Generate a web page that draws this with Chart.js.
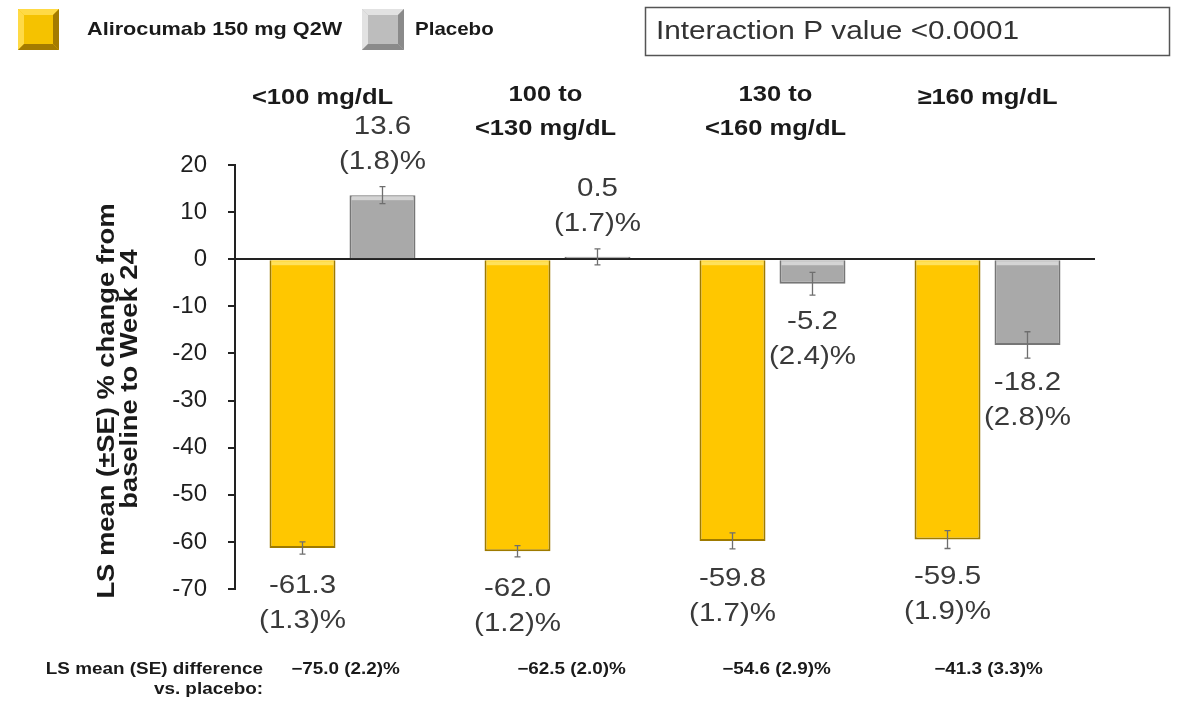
<!DOCTYPE html>
<html>
<head>
<meta charset="utf-8">
<title>LS mean % change from baseline to Week 24 by baseline LDL-C</title>
<script src="https://cdn.jsdelivr.net/npm/chart.js@4.4.1/dist/chart.umd.min.js"></script>
<style>
  html, body { margin: 0; padding: 0; background: #ffffff; }
  #wrap { width: 1178px; height: 706px; position: relative; }
</style>
</head>
<body>
<div id="wrap"><canvas id="chart" width="1178" height="706"></canvas></div>
<script>
// Baseline LDL-C subgroups
const categories = ['<100 mg/dL', '100 to <130 mg/dL', '130 to <160 mg/dL', '≥160 mg/dL'];
const headerLines = [['<100 mg/dL'], ['100 to', '<130 mg/dL'], ['130 to', '<160 mg/dL'], ['≥160 mg/dL']];

// LS mean % change and SE per treatment arm
const alirocumab = [-61.3, -62.0, -59.8, -59.5];
const alirocumabSE = [1.3, 1.2, 1.7, 1.9];
const placebo = [13.6, 0.5, -5.2, -18.2];
const placeboSE = [1.8, 1.7, 2.4, 2.8];

// LS mean (SE) difference vs. placebo
const diffMean = [-75.0, -62.5, -54.6, -41.3];
const diffSE = [2.2, 2.0, 2.9, 3.3];

// Y axis range and step
const yMin = -70;
const yMax = 20;
const yStep = 10;

const seriesNames = ['Alirocumab 150 mg Q2W', 'Placebo'];
const interactionText = 'Interaction P value <0.0001';

const FONT = "'Liberation Sans', Arial, Helvetica, sans-serif";
const YELLOW = '#FFC700';
const YELLOW_EDGE = '#9E7A00';
const GREY = '#A9A9A9';
const GREY_EDGE = '#767676';

// Draw text stretched along its own direction
function wideText(ctx, str, x, y, opts) {
  ctx.save();
  ctx.translate(x, y);
  if (opts.rotate) ctx.rotate(opts.rotate);
  ctx.scale(opts.sx || 1, 1);
  ctx.font = opts.font;
  ctx.fillStyle = opts.color || '#222';
  ctx.textAlign = opts.align || 'center';
  ctx.textBaseline = 'middle';
  ctx.fillText(str, 0, 0);
  ctx.restore();
}

// Bevelled legend swatch
function bevelBox(ctx, x, y, w, h, base, light, dark) {
  const b = 6;
  ctx.save();
  ctx.fillStyle = base;
  ctx.fillRect(x, y, w, h);
  ctx.fillStyle = light;
  ctx.beginPath();
  ctx.moveTo(x, y); ctx.lineTo(x + w, y); ctx.lineTo(x + w - b, y + b); ctx.lineTo(x + b, y + b); ctx.closePath();
  ctx.fill();
  ctx.beginPath();
  ctx.moveTo(x, y); ctx.lineTo(x + b, y + b); ctx.lineTo(x + b, y + h - b); ctx.lineTo(x, y + h); ctx.closePath();
  ctx.fill();
  ctx.fillStyle = dark;
  ctx.beginPath();
  ctx.moveTo(x, y + h); ctx.lineTo(x + b, y + h - b); ctx.lineTo(x + w - b, y + h - b); ctx.lineTo(x + w, y + h); ctx.closePath();
  ctx.fill();
  ctx.beginPath();
  ctx.moveTo(x + w, y); ctx.lineTo(x + w, y + h); ctx.lineTo(x + w - b, y + h - b); ctx.lineTo(x + w - b, y + b); ctx.closePath();
  ctx.fill();
  ctx.restore();
}

const fmt = v => v.toFixed(1);
const fmtDiff = (m, s) => (m < 0 ? '\u2212' : '') + Math.abs(m).toFixed(1) + ' (' + s.toFixed(1) + ')%';

const annotations = {
  id: 'annotations',
  afterDatasetsDraw(chart) {
    const ctx = chart.ctx;
    const xs = chart.scales.x;
    const ys = chart.scales.y;
    const seList = [alirocumabSE, placeboSE];

    chart.data.datasets.forEach((ds, di) => {
      const meta = chart.getDatasetMeta(di);
      meta.data.forEach((bar, i) => {
        const v = ds.data[i];
        const se = seList[di][i];
        const p = bar.getProps(['x', 'y', 'base', 'width'], true);
        const left = p.x - p.width / 2;

        // light strip along the upper edge of each bar
        const top = Math.min(p.y, p.base);
        if (Math.abs(p.y - p.base) > 6) {
          ctx.save();
          ctx.fillStyle = di === 0 ? '#FFE15A' : '#D4D4D4';
          ctx.fillRect(left + 2, top + 1, p.width - 4, 4);
          ctx.restore();
        }

        // error bar
        const y1 = ys.getPixelForValue(v - se);
        const y2 = ys.getPixelForValue(v + se);
        ctx.save();
        ctx.strokeStyle = '#6e6e6e';
        ctx.lineWidth = 1.3;
        ctx.beginPath();
        ctx.moveTo(p.x, y1); ctx.lineTo(p.x, y2);
        ctx.moveTo(p.x - 3, y1); ctx.lineTo(p.x + 3, y1);
        ctx.moveTo(p.x - 3, y2); ctx.lineTo(p.x + 3, y2);
        ctx.stroke();
        ctx.restore();

        // value labels
        const end = ys.getPixelForValue(v);
        const l1 = v >= 0 ? end - 68 : end + 38;
        const l2 = v >= 0 ? end - 33 : end + 73;
        const f = '25px ' + FONT;
        wideText(ctx, fmt(v), p.x, l1, { font: f, sx: 1.18, color: '#3a3a3a' });
        wideText(ctx, '(' + fmt(se) + ')%', p.x, l2, { font: f, sx: 1.18, color: '#3a3a3a' });
      });
    });

    // subgroup headers
    const headerShift = [-20, -12, 3, 0];
    headerLines.forEach((lines, i) => {
      const cx = xs.getPixelForValue(i) + headerShift[i];
      const ys0 = lines.length === 1 ? [98] : [95, 129];
      lines.forEach((t, k) => {
        wideText(ctx, t, cx, ys0[k], { font: 'bold 22px ' + FONT, sx: 1.16, color: '#1a1a1a' });
      });
    });

    // differences vs. placebo
    const bf = 'bold 16px ' + FONT;
    wideText(ctx, 'LS mean (SE) difference', 263, 670, { font: bf, sx: 1.18, align: 'right', color: '#1a1a1a' });
    wideText(ctx, 'vs. placebo:', 263, 690, { font: bf, sx: 1.18, align: 'right', color: '#1a1a1a' });
    const diffShift = [3, 14, 4, 1];
    diffMean.forEach((m, i) => {
      const cx = xs.getPixelForValue(i) + diffShift[i];
      wideText(ctx, fmtDiff(m, diffSE[i]), cx, 670, { font: bf, sx: 1.18, color: '#1a1a1a' });
    });

    // y axis title
    const yt = { font: 'bold 23px ' + FONT, sx: 1.19, rotate: -Math.PI / 2, color: '#1a1a1a' };
    wideText(ctx, 'LS mean (\u00B1SE) % change from', 108, 401, yt);
    wideText(ctx, 'baseline to Week 24', 131, 379, yt);

    // legend
    bevelBox(ctx, 18, 9, 41, 41, '#F5C200', '#FFDA45', '#A47B00');
    wideText(ctx, seriesNames[0], 87, 30, { font: 'bold 19px ' + FONT, sx: 1.14, align: 'left', color: '#1a1a1a' });
    bevelBox(ctx, 362, 9, 42, 41, '#BDBDBD', '#E2E2E2', '#8A8A8A');
    wideText(ctx, seriesNames[1], 415, 30, { font: 'bold 19px ' + FONT, sx: 1.08, align: 'left', color: '#1a1a1a' });

    // interaction box
    ctx.save();
    ctx.strokeStyle = '#555';
    ctx.lineWidth = 1.5;
    ctx.strokeRect(645.5, 7.5, 524, 48);
    ctx.restore();
    wideText(ctx, interactionText, 656, 32, { font: '25px ' + FONT, sx: 1.19, align: 'left', color: '#333' });
  }
};

new Chart(document.getElementById('chart'), {
  type: 'bar',
  data: {
    labels: categories,
    datasets: [
      {
        label: seriesNames[0],
        data: alirocumab,
        backgroundColor: YELLOW,
        borderColor: YELLOW_EDGE,
        borderWidth: 2,
        borderSkipped: 'start'
      },
      {
        label: seriesNames[1],
        data: placebo,
        backgroundColor: GREY,
        borderColor: GREY_EDGE,
        borderWidth: 2,
        borderSkipped: 'start'
      }
    ]
  },
  options: {
    responsive: false,
    animation: false,
    devicePixelRatio: 1,
    categoryPercentage: 0.744,
    barPercentage: 0.825,
    layout: { padding: { left: 0, right: 83, top: 165, bottom: 117 } },
    plugins: {
      legend: { display: false },
      tooltip: { enabled: false }
    },
    scales: {
      x: {
        display: false
      },
      y: {
        min: yMin,
        max: yMax,
        afterFit(scale) { scale.width = 235; },
        ticks: {
          stepSize: yStep,
          padding: 21,
          color: '#1f1f1f',
          font: { family: FONT, size: 24 }
        },
        grid: {
          drawOnChartArea: true,
          drawTicks: true,
          tickLength: 7,
          tickWidth: 2,
          tickColor: '#222',
          lineWidth: 2,
          color: ctx => (ctx.tick && ctx.tick.value === 0) ? '#222' : 'rgba(0,0,0,0)'
        },
        border: { display: true, color: '#222', width: 2 }
      }
    }
  },
  plugins: [annotations]
});
</script>
</body>
</html>
